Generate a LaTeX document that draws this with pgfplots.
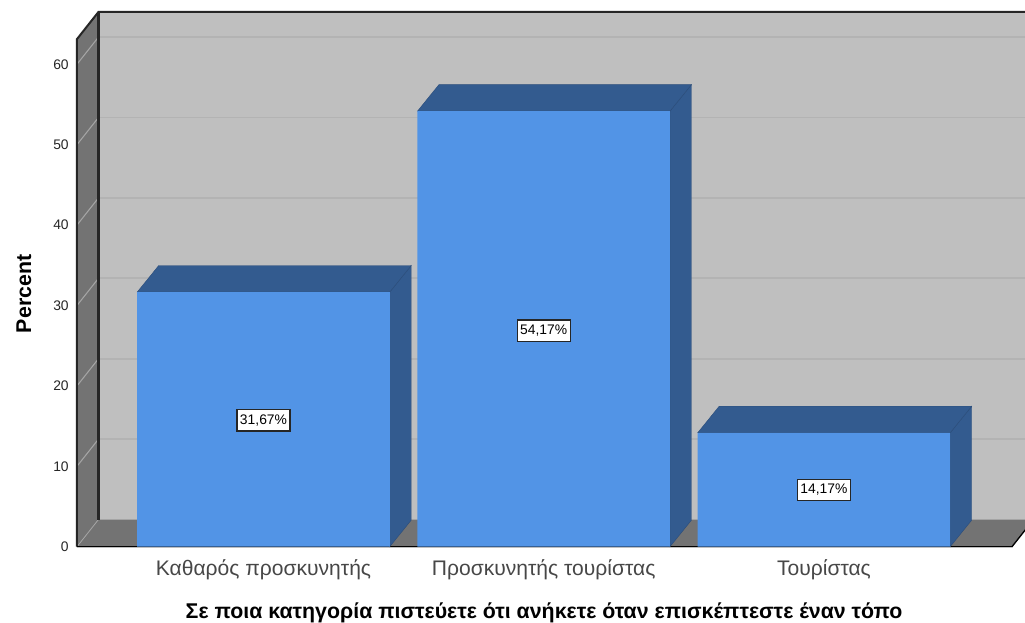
\documentclass[border=0pt]{standalone}
\usepackage{pgfplots}
\pgfplotsset{compat=1.18}
\usepackage{fontspec}
\setmainfont{Liberation Sans}
\definecolor{wallback}{RGB}{191,191,191}
\definecolor{wallside}{RGB}{115,115,115}
\definecolor{gridc}{RGB}{179,179,179}
\definecolor{gridside}{RGB}{165,165,165}
\definecolor{barfront}{RGB}{82,148,230}
\definecolor{bardark}{RGB}{51,91,143}
% Depth offset of the 3D effect, in axis units
\newcommand{\dy}{3.38}
\begin{document}
\begin{tikzpicture}[x=1pt,y=1pt]
\path[use as bounding box,fill=white] (-57.75,-57.225) rectangle (711,410.025);
\clip (-57.75,-57.225) rectangle (711,410.025);
\begin{axis}[
  scale only axis,
  width=701.25pt,
  height=380.7pt,
  at={(0,0)},
  anchor=south west,
  xmin=-0.6655, xmax=2.671,
  ymin=0, ymax=63.13,
  clip=false,
  axis line style={draw=none},
  major tick length=0pt,
  xtick={0,1,2},
  xticklabels={Καθαρός προσκυνητής,Προσκυνητής τουρίστας,Τουρίστας},
  ytick={0,10,20,30,40,50,60},
  /pgf/number format/assume math mode=true,
  tick label style={font=\fontsize{10.4}{12}\selectfont},
  yticklabel style={xshift=-2.7pt, text=black!85},
  xticklabel style={font=\fontsize{15.8}{18}\selectfont, text=black!72, yshift=-6.3pt},
  xlabel={Σε ποια κατηγορία πιστεύετε ότι ανήκετε όταν επισκέπτεστε έναν τόπο},
  ylabel={Percent},
  every axis x label/.style={at={(axis description cs:0.4995,-0.1305)},anchor=center,font=\bfseries\fontsize{16}{18}\selectfont},
  every axis y label/.style={at={(axis description cs:-0.0567,0.498)},rotate=90,anchor=center,font=\bfseries\fontsize{16}{18}\selectfont},
]
% Back wall, side wall and floor
\addplot[fill=wallback,draw=none] coordinates {(-0.5888,3.38) (2.75,3.38) (2.75,66.51) (-0.5888,66.51)} -- cycle;
\addplot[fill=wallside,draw=none] coordinates {(-0.6655,0) (-0.5888,3.38) (-0.5888,66.51) (-0.6655,63.13)} -- cycle;
\addplot[fill=wallside,draw=none] coordinates {(-0.6655,0) (2.671,0) (2.7477,3.38) (-0.5888,3.38)} -- cycle;
% Grid lines across the back wall and down the side wall
\pgfplotsinvokeforeach{10,20,30,40,50,60}{
  \draw[gridc,line width=1.2pt] (axis cs:-0.5888,#1+\dy) -- (axis cs:2.75,#1+\dy);
  \draw[gridside,line width=0.8pt] (axis cs:-0.6655,#1) -- (axis cs:-0.5888,#1+\dy);
}
\draw[gridside,line width=0.6pt] (axis cs:-0.6655,0) -- (axis cs:-0.5888,\dy);
% Frame of the box
\draw[black!85,line width=1.5pt] (axis cs:-0.6655,0) -- (axis cs:-0.6655,63.13) -- (axis cs:-0.5888,66.51) -- (axis cs:2.75,66.51);
\draw[black!85,line width=1.6pt] (axis cs:-0.5888,3.38) -- (axis cs:-0.5888,66.51);
\draw[black,line width=1pt] (axis cs:-0.6655,0) -- (axis cs:2.671,0) -- (axis cs:2.7477,3.38);
\draw[black!25,line width=0.6pt] (axis cs:-0.6655,-0.14) -- (axis cs:2.671,-0.14);
% Side and top faces of the bars
\addplot[fill=bardark,draw=bardark!85!black,line width=0.3pt] coordinates {(0.4505,0) (0.5272,3.3) (0.5272,34.97) (0.4505,31.67)} -- cycle;
\addplot[fill=bardark,draw=bardark!85!black,line width=0.3pt] coordinates {(-0.4505,31.67) (0.4505,31.67) (0.5272,34.97) (-0.3738,34.97)} -- cycle;
\addplot[fill=bardark,draw=bardark!85!black,line width=0.3pt] coordinates {(1.4505,0) (1.5272,3.3) (1.5272,57.47) (1.4505,54.17)} -- cycle;
\addplot[fill=bardark,draw=bardark!85!black,line width=0.3pt] coordinates {(0.5495,54.17) (1.4505,54.17) (1.5272,57.47) (0.6262,57.47)} -- cycle;
\addplot[fill=bardark,draw=bardark!85!black,line width=0.3pt] coordinates {(2.4505,0) (2.5272,3.3) (2.5272,17.47) (2.4505,14.17)} -- cycle;
\addplot[fill=bardark,draw=bardark!85!black,line width=0.3pt] coordinates {(1.5495,14.17) (2.4505,14.17) (2.5272,17.47) (1.6262,17.47)} -- cycle;
% Front faces of the bars
\addplot[ybar,bar width=189.4pt,fill=barfront,draw=none] coordinates {(0,31.67) (1,54.17) (2,14.17)};
% Value labels, centred on each bar
\tikzset{vlab/.style={fill=white,draw=black!85,line width=1pt,inner xsep=2.2pt,inner ysep=0pt,minimum height=16pt,font=\fontsize{10.4}{12}\selectfont}}
\node[vlab] at (axis cs:0,15.7) {31,67\%};
\node[vlab] at (axis cs:1,26.85) {54,17\%};
\node[vlab] at (axis cs:2,7.05) {14,17\%};
\end{axis}
\end{tikzpicture}
\end{document}
